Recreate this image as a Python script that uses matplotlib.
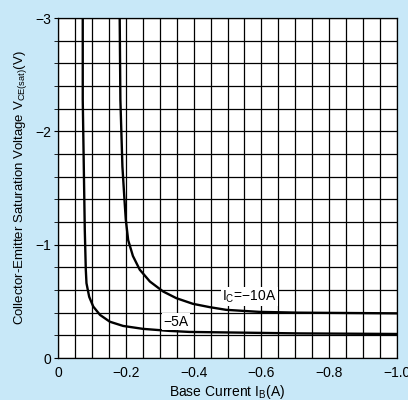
import numpy as np
import matplotlib
matplotlib.use("Agg")
import matplotlib.pyplot as plt
from matplotlib.ticker import MultipleLocator

plt.rcParams['font.family'] = ['Liberation Sans', 'DejaVu Sans']
plt.rcParams['mathtext.fontset'] = 'custom'
plt.rcParams['mathtext.rm'] = 'Liberation Sans'
plt.rcParams['axes.unicode_minus'] = True

# Ic = -10A curve (base current A, VCE(sat) V)
ib_10 = [-0.182, -0.184, -0.190, -0.196, -0.200, -0.207, -0.221, -0.241, -0.271,
         -0.310, -0.349, -0.398, -0.447, -0.496, -0.594, -0.71, -1.0]
vce_10 = [-3.0, -2.28, -1.69, -1.40, -1.22, -1.04, -0.90, -0.78, -0.675,
          -0.587, -0.528, -0.478, -0.449, -0.425, -0.407, -0.40, -0.394]

# Ic = -5A curve
ib_5 = [-0.073, -0.073, -0.079, -0.082, -0.084, -0.092, -0.104, -0.124, -0.153,
        -0.192, -0.251, -0.329, -0.388, -0.71, -1.0]
vce_5 = [-3.0, -2.28, -1.13, -0.78, -0.66, -0.54, -0.454, -0.38, -0.32,
         -0.283, -0.257, -0.239, -0.23, -0.217, -0.212]

xticks = [0, -0.2, -0.4, -0.6, -0.8, -1.0]
xticklabels = ['0', '\u22120.2', '\u22120.4', '\u22120.6', '\u22120.8', '\u22121.0']
yticks = [0, -1, -2, -3]
yticklabels = ['0', '\u22121', '\u22122', '\u22123']

bg = '#c8e8f8'
fig = plt.figure(figsize=(4.08, 4.0), dpi=100, facecolor=bg)
ax = fig.add_axes([58/408, 42/400, 339/408, 340/400])
ax.set_facecolor('white')

ax.set_xlim(0, -1.0)
ax.set_ylim(0, -3)

ax.xaxis.set_minor_locator(MultipleLocator(0.05))
ax.yaxis.set_minor_locator(MultipleLocator(0.2))
ax.set_xticks(xticks)
ax.set_xticklabels(xticklabels)
ax.set_yticks(yticks)
ax.set_yticklabels(yticklabels)
ax.grid(which='both', color='black', linewidth=0.9)
ax.set_axisbelow(True)
ax.tick_params(axis='x', which='both', length=0, labelsize=10, pad=6)
ax.tick_params(axis='y', which='both', length=3, labelsize=10, pad=2)
for s in ax.spines.values():
    s.set_color('black')
    s.set_linewidth(0.9)

ax.plot(ib_10, vce_10, color='black', linewidth=1.7, solid_joinstyle='round')
ax.plot(ib_5, vce_5, color='black', linewidth=1.7, solid_joinstyle='round')

ax.text(-0.485, -0.54, 'I$_\\mathrm{C}$=\u221210A', fontsize=10, ha='left', va='center',
        bbox=dict(facecolor='white', edgecolor='none', pad=1))
ax.text(-0.31, -0.32, '\u22125A', fontsize=10, ha='left', va='center',
        bbox=dict(facecolor='white', edgecolor='none', pad=1))

ax.set_xlabel('Base Current I$_\\mathrm{B}$(A)', fontsize=10, labelpad=2)
ax.set_ylabel('Collector-Emitter Saturation Voltage V$_\\mathrm{CE(sat)}$(V)', fontsize=9.5, labelpad=4)

fig.savefig('out.png', dpi=100, facecolor=bg)
